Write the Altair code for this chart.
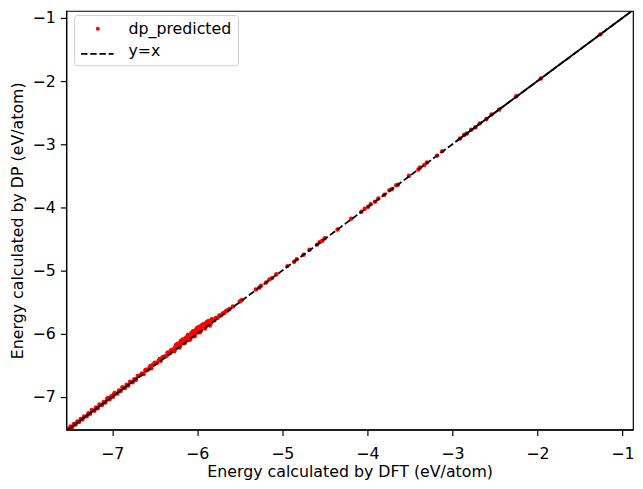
import altair as alt
import pandas as pd

# DFT vs DP energies (eV/atom)
dft_cluster = [-7.51, -7.49, -7.47, -7.45, -7.43, -7.41, -7.39, -7.37, -7.35, -7.33,
               -7.30, -7.28, -7.26, -7.24, -7.21, -7.19, -7.17, -7.15, -7.12, -7.10,
               -7.08, -7.06, -7.03, -7.01, -6.99, -6.97, -6.94, -6.92, -6.90, -6.88,
               -6.85, -6.83, -6.81, -6.79, -6.76, -6.74, -6.72, -6.70, -6.67, -6.65,
               -6.63, -6.61, -6.58, -6.56, -6.54, -6.52, -6.49, -6.47, -6.45, -6.43,
               -6.41, -6.38, -6.36, -6.34, -6.32, -6.30, -6.28, -6.26, -6.24, -6.22,
               -6.20, -6.18, -6.16, -6.14, -6.12, -6.10, -6.08, -6.06, -6.04, -6.02,
               -6.00, -5.98, -5.96, -5.94, -5.92, -5.90, -5.88, -5.86, -5.84, -5.82,
               -5.80, -5.78, -5.76, -5.74, -5.72, -5.70, -5.68, -5.66, -5.64, -5.62,
               -6.27, -6.21, -6.15, -6.09, -6.03, -5.97, -5.91, -5.85, -6.11, -6.05,
               -5.99, -5.93, -6.01, -6.19, -6.35, -6.31, -6.25, -6.23, -6.17, -6.13,
               -6.07, -6.05, -6.00, -5.97, -5.95, -5.89, -5.87, -5.83, -6.02, -5.96,
               -6.08, -5.90, -6.14, -6.20, -6.26, -6.40, -6.44, -6.50, -6.55, -6.60,
               -6.98, -7.05]
dp_cluster = [-7.50, -7.47, -7.48, -7.43, -7.44, -7.39, -7.40, -7.35, -7.36, -7.31,
              -7.31, -7.26, -7.27, -7.21, -7.22, -7.17, -7.18, -7.12, -7.13, -7.08,
              -7.09, -7.03, -7.04, -6.99, -7.00, -6.94, -6.95, -6.90, -6.91, -6.85,
              -6.86, -6.81, -6.82, -6.76, -6.77, -6.72, -6.73, -6.67, -6.66, -6.63,
              -6.64, -6.58, -6.57, -6.54, -6.55, -6.49, -6.47, -6.46, -6.42, -6.43,
              -6.38, -6.36, -6.35, -6.30, -6.31, -6.26, -6.25, -6.24, -6.19, -6.20,
              -6.14, -6.15, -6.12, -6.08, -6.10, -6.04, -6.06, -6.00, -6.02, -5.95,
              -5.97, -5.92, -5.94, -5.88, -5.90, -5.84, -5.86, -5.81, -5.83, -5.78,
              -5.79, -5.75, -5.75, -5.71, -5.71, -5.68, -5.67, -5.64, -5.63, -5.61,
              -6.28, -6.22, -6.15, -6.10, -6.04, -5.98, -5.92, -5.87, -6.02, -5.97,
              -5.90, -5.85, -5.93, -6.11, -6.30, -6.27, -6.18, -6.16, -6.09, -6.06,
              -5.99, -5.96, -5.91, -5.89, -5.87, -5.82, -5.80, -5.77, -6.00, -5.96,
              -6.08, -5.89, -6.13, -6.19, -6.22, -6.37, -6.40, -6.46, -6.51, -6.57,
              -6.96, -7.02]

dft_sparse = [-5.58, -5.50, -5.48, -5.31, -5.27, -5.25, -5.19, -5.15, -5.12, -5.07,
              -4.94, -4.86, -4.83, -4.75, -4.68, -4.59, -4.56, -4.53, -4.50, -4.35,
              -4.19, -4.07, -4.03, -3.99, -3.96, -3.91, -3.87, -3.80, -3.74, -3.71,
              -3.66, -3.64, -3.51, -3.40, -3.38, -3.33, -3.30, -3.18, -3.12, -2.91,
              -2.86, -2.83, -2.78, -2.73, -2.68, -2.60, -2.54, -2.45, -2.25, -1.96,
              -1.26]
dp_sparse = [-5.57, -5.49, -5.47, -5.30, -5.27, -5.24, -5.19, -5.14, -5.12, -5.06,
             -4.93, -4.86, -4.82, -4.75, -4.67, -4.59, -4.55, -4.53, -4.49, -4.35,
             -4.18, -4.07, -4.02, -3.99, -3.95, -3.91, -3.86, -3.80, -3.73, -3.71,
             -3.65, -3.64, -3.50, -3.40, -3.37, -3.33, -3.29, -3.18, -3.11, -2.91,
             -2.85, -2.83, -2.77, -2.73, -2.67, -2.60, -2.53, -2.45, -2.24, -1.96,
             -1.26]

line_ends = [-7.56, -0.87]
solid_low = [-7.56, -6.70]
solid_high = [-2.95, -0.87]
ticks = [-7, -6, -5, -4, -3, -2, -1]
legend_labels = ["dp_predicted", "y=x"]
x_domain = [-7.54, -0.876]
y_domain = [-7.52, -0.89]

pairs = list(zip(dft_cluster, dp_cluster)) + list(zip(dft_sparse, dp_sparse))
pts = pd.DataFrame({"dft": [p[0] for p in pairs], "dp": [p[1] for p in pairs]})
pts["series"] = legend_labels[0]

line_df = pd.DataFrame({"x": line_ends, "y": line_ends})
line_df["kind"] = legend_labels[1]
solid_df = pd.DataFrame({"x": solid_low + solid_high, "y": solid_low + solid_high,
                         "seg": ["a", "a", "b", "b"]})

FONT = "DejaVu Sans"
FS = 16
DASH = [6.5, 2.8]

xs = alt.Scale(domain=x_domain, nice=False, zero=False)
ys = alt.Scale(domain=y_domain, nice=False, zero=False)
xax = alt.Axis(values=ticks, format="d", title="Energy calculated by DFT (eV/atom)",
               labelPadding=10, titlePadding=2)
yax = alt.Axis(values=ticks, format="d", title="Energy calculated by DP (eV/atom)",
               labelPadding=5, titlePadding=7)

# main legend box: red dot + both labels (second dot invisible)
legend_main = alt.Legend(
    title=None, orient="none", legendX=8, legendY=4,
    fillColor="white", strokeColor="#cccccc", cornerRadius=3, padding=6,
    symbolSize=16, symbolOffset=10, labelOffset=23, rowPadding=7,
    symbolStrokeWidth=0,
    labelFont=FONT, labelFontSize=FS, labelColor="black",
)
# dashed handle for the y=x entry, overlaid on the second row
legend_line = alt.Legend(
    title=None, orient="none", legendX=14, legendY=26, padding=0,
    symbolType="stroke", symbolSize=1089, symbolStrokeColor="black", symbolStrokeWidth=1.8,
    labelExpr="''", labelFontSize=FS, labelFont=FONT,
)

points = alt.Chart(pts).mark_circle(size=20, opacity=1).encode(
    x=alt.X("dft:Q", scale=xs, axis=xax),
    y=alt.Y("dp:Q", scale=ys, axis=yax),
    color=alt.Color("series:N", scale=alt.Scale(domain=legend_labels, range=["red", "white"]),
                    legend=legend_main),
)

solid = alt.Chart(solid_df).mark_line(color="black", strokeWidth=1.8, clip=True).encode(
    x=alt.X("x:Q", scale=xs), y=alt.Y("y:Q", scale=ys), detail="seg:N"
)
dashed = alt.Chart(line_df).mark_line(color="black", strokeWidth=1.8, clip=True).encode(
    x=alt.X("x:Q", scale=xs), y=alt.Y("y:Q", scale=ys),
    strokeDash=alt.StrokeDash("kind:N", scale=alt.Scale(domain=[legend_labels[1]], range=[DASH]),
                              legend=legend_line),
)

chart = alt.layer(points, solid, dashed).properties(
    width=574, height=424,
    autosize=alt.AutoSizeParams(type="none"),
    padding={"left": 59, "top": 0, "right": 2, "bottom": 49},
).configure_view(stroke="black", strokeWidth=1.2).configure_axis(
    grid=False, domainColor="black", domainWidth=1.2, tickColor="black", tickWidth=1.2,
    tickSize=6, labelFont=FONT, labelFontSize=FS, labelColor="black",
    titleFont=FONT, titleFontSize=FS, titleFontWeight="normal", titleColor="black",
).configure_legend(labelFont=FONT, labelFontSize=FS, labelColor="black")

chart.save("out.html", embed_options={"renderer": "svg", "actions": False})
